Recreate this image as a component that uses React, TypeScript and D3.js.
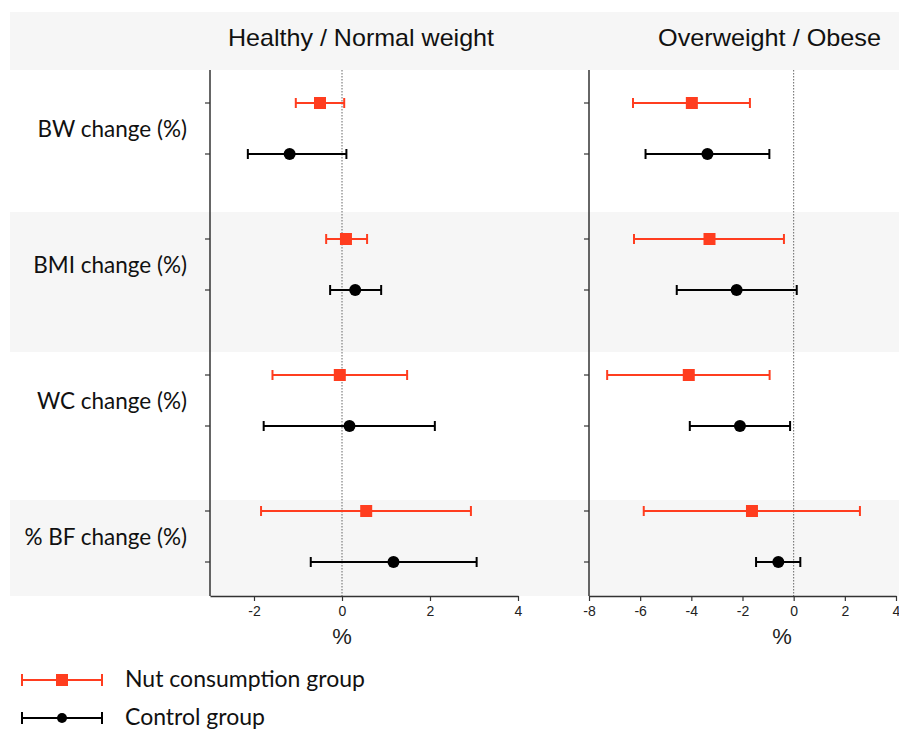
import { useEffect, useRef } from 'react';
import * as d3 from 'd3';

const measures = ['BW change (%)', 'BMI change (%)', 'WC change (%)', '% BF change (%)'];
const panelTitles = ['Healthy / Normal weight', 'Overweight / Obese'];
const groups = ['Nut consumption group', 'Control group'];
const groupColors = ['#ff3d1f', '#000000'];

// [lower, mean, upper] per measure, per group
const healthyNut = [[-1.05, -0.5, 0.05], [-0.36, 0.09, 0.57], [-1.58, -0.05, 1.48], [-1.84, 0.55, 2.93]];
const healthyControl = [[-2.14, -1.19, 0.1], [-0.27, 0.3, 0.89], [-1.78, 0.17, 2.11], [-0.71, 1.17, 3.06]];
const obeseNut = [[-6.28, -3.98, -1.71], [-6.24, -3.29, -0.38], [-7.29, -4.1, -0.94], [-5.86, -1.63, 2.59]];
const obeseControl = [[-5.79, -3.37, -0.95], [-4.57, -2.23, 0.12], [-4.06, -2.1, -0.14], [-1.47, -0.6, 0.26]];

const healthyTicks = [-2, 0, 2, 4];
const obeseTicks = [-8, -6, -4, -2, 0, 2, 4];

const App = () => {
    const svgRef = useRef(null);

    useEffect(() => {
        const svg = d3.select(svgRef.current);
        svg.selectAll('*').remove();

        const top = 70, bottom = 596;
        const rowStep = 136, pairGap = 51, firstY = 103;
        const yPos = (row, g) => firstY + row * rowStep + g * pairGap;

        // header + alternating bands
        svg.append('rect').attr('x', 10).attr('y', 12).attr('width', 889).attr('height', top - 12).attr('fill', '#f6f6f6');
        const bandEdges = [[212, 352], [500, bottom]];
        bandEdges.forEach(([a, b]) => {
            svg.append('rect').attr('x', 10).attr('y', a).attr('width', 889).attr('height', b - a).attr('fill', '#f6f6f6');
        });

        // row labels (right aligned)
        measures.forEach((m, i) => {
            svg.append('text')
                .attr('x', 187)
                .attr('y', (yPos(i, 0) + yPos(i, 1)) / 2 + 8)
                .attr('text-anchor', 'end')
                .attr('font-family', 'Lato, "Open Sans", sans-serif')
                .attr('font-size', 22.5)
                .attr('fill', '#111')
                .text(m);
        });

        const panels = [
            { title: panelTitles[0], titleX: 228, titleW: 266, domain: [-3, 4], range: [210, 518], ticks: healthyTicks, data: [healthyNut, healthyControl], pctX: 342 },
            { title: panelTitles[1], titleX: 658, titleW: 223, domain: [-8, 4], range: [589, 896], ticks: obeseTicks, data: [obeseNut, obeseControl], pctX: 782 },
        ];

        panels.forEach(p => {
            const x = d3.scaleLinear().domain(p.domain).range(p.range);

            svg.append('text')
                .attr('x', p.titleX).attr('y', 46)
                .attr('font-family', '"Liberation Sans", Arial, sans-serif')
                .attr('font-size', 24)
                .attr('textLength', p.titleW)
                .attr('lengthAdjust', 'spacingAndGlyphs')
                .attr('fill', '#111')
                .text(p.title);

            // zero reference line
            svg.append('line')
                .attr('x1', x(0)).attr('x2', x(0))
                .attr('y1', top).attr('y2', bottom)
                .attr('stroke', '#666').attr('stroke-width', 1)
                .attr('stroke-dasharray', '1.5,1.5');

            // y axis
            svg.append('line')
                .attr('x1', p.range[0]).attr('x2', p.range[0])
                .attr('y1', top).attr('y2', bottom)
                .attr('stroke', '#333').attr('stroke-width', 1.5);
            measures.forEach((m, i) => {
                [0, 1].forEach(g => {
                    svg.append('line')
                        .attr('x1', p.range[0] - 5).attr('x2', p.range[0])
                        .attr('y1', yPos(i, g)).attr('y2', yPos(i, g))
                        .attr('stroke', '#333').attr('stroke-width', 1.2);
                });
            });

            // x axis
            const xAxis = svg.append('g')
                .attr('transform', `translate(0,${bottom})`)
                .call(d3.axisBottom(x).tickValues(p.ticks).tickSize(5).tickSizeOuter(0).tickFormat(d3.format('d')));
            xAxis.select('.domain').attr('stroke', '#333').attr('stroke-width', 1.5);
            xAxis.selectAll('.tick line').attr('stroke', '#333').attr('stroke-width', 1.2);
            xAxis.selectAll('text')
                .attr('font-family', '"Liberation Sans", Arial, sans-serif')
                .attr('font-size', 14)
                .attr('fill', '#222')
                .attr('dy', '0.85em')
                .text(d => String(d).replace('−', '-'));

            svg.append('text')
                .attr('x', p.pctX).attr('y', 644)
                .attr('text-anchor', 'middle')
                .attr('font-family', '"Liberation Sans", Arial, sans-serif')
                .attr('font-size', 22)
                .attr('fill', '#222')
                .text('%');

            // error bars
            p.data.forEach((series, g) => {
                const color = groupColors[g];
                series.forEach(([lo, mean, hi], i) => {
                    const y = yPos(i, g);
                    const gEl = svg.append('g');
                    gEl.append('line').attr('x1', x(lo)).attr('x2', x(hi)).attr('y1', y).attr('y2', y)
                        .attr('stroke', color).attr('stroke-width', 2);
                    [lo, hi].forEach(v => {
                        gEl.append('line').attr('x1', x(v)).attr('x2', x(v)).attr('y1', y - 5).attr('y2', y + 5)
                            .attr('stroke', color).attr('stroke-width', 2);
                    });
                    if (g === 0) {
                        gEl.append('rect').attr('x', x(mean) - 6).attr('y', y - 6).attr('width', 12).attr('height', 12).attr('fill', color);
                    } else {
                        gEl.append('circle').attr('cx', x(mean)).attr('cy', y).attr('r', 6).attr('fill', color);
                    }
                });
            });
        });

        // legend
        groups.forEach((name, g) => {
            const y = 680 + g * 38;
            const color = groupColors[g];
            const lg = svg.append('g');
            lg.append('line').attr('x1', 22).attr('x2', 102).attr('y1', y).attr('y2', y).attr('stroke', color).attr('stroke-width', 2);
            [22, 102].forEach(v => lg.append('line').attr('x1', v).attr('x2', v).attr('y1', y - 6).attr('y2', y + 6).attr('stroke', color).attr('stroke-width', 2));
            if (g === 0) lg.append('rect').attr('x', 56).attr('y', y - 6).attr('width', 12).attr('height', 12).attr('fill', color);
            else lg.append('circle').attr('cx', 62).attr('cy', y).attr('r', 5).attr('fill', color);
            lg.append('text')
                .attr('x', 125).attr('y', y + 7)
                .attr('font-family', 'Lato, "Open Sans", sans-serif')
                .attr('font-size', 23)
                .attr('fill', '#111')
                .text(name);
        });
    }, []);

    return (
        <svg ref={svgRef} width={899} height={729} style={{ position: 'absolute', left: 0, top: 0, background: '#fff' }} />
    );
};

export default App;
